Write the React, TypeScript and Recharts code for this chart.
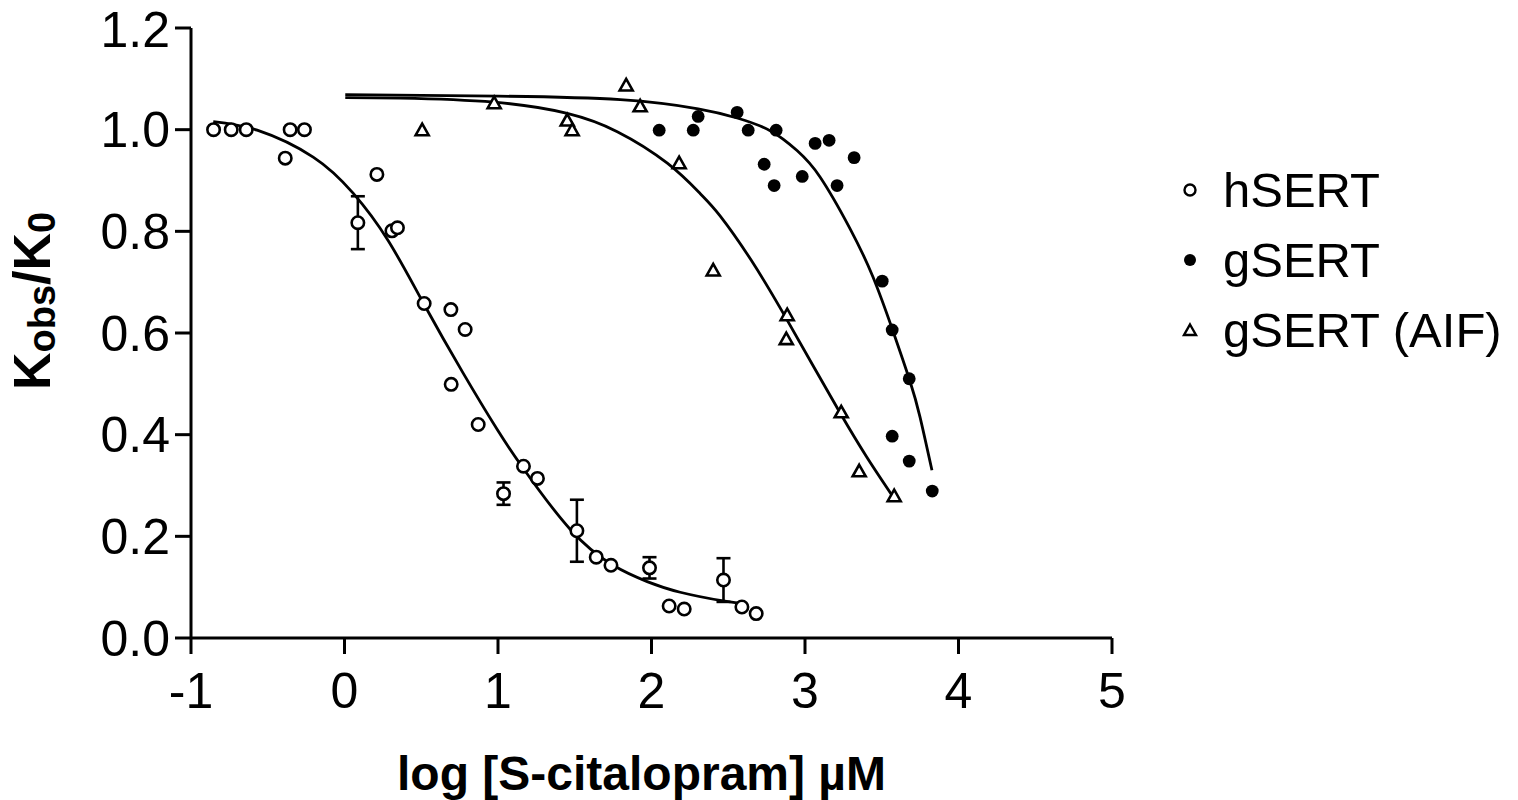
import React from 'react';
import { ScatterChart, Scatter, XAxis, YAxis, ErrorBar, Legend } from 'recharts';

const FONT = '"Liberation Sans", Arial, Helvetica, sans-serif';

// log [S-citalopram] (x) vs Kobs/K0 (y)
const hSert = [
  { x: -0.853, y: 1.0 }, { x: -0.738, y: 1.0 }, { x: -0.64, y: 1.0 }, { x: -0.386, y: 0.944 },
  { x: -0.354, y: 1.0 }, { x: -0.261, y: 1.0 }, { x: 0.211, y: 0.912 }, { x: 0.087, y: 0.817 },
  { x: 0.309, y: 0.801 }, { x: 0.345, y: 0.807 }, { x: 0.519, y: 0.658 }, { x: 0.693, y: 0.646 },
  { x: 0.786, y: 0.607 }, { x: 0.695, y: 0.499 }, { x: 0.871, y: 0.42 }, { x: 1.166, y: 0.338 },
  { x: 1.257, y: 0.314 }, { x: 1.036, y: 0.284 }, { x: 1.514, y: 0.211 }, { x: 1.64, y: 0.159 },
  { x: 1.736, y: 0.143 }, { x: 1.987, y: 0.138 }, { x: 2.115, y: 0.063 }, { x: 2.213, y: 0.057 },
  { x: 2.469, y: 0.114 }, { x: 2.589, y: 0.061 }, { x: 2.682, y: 0.048 },
];

const hSertErr = [
  { x: 0.087, y: 0.817, err: 0.052 },
  { x: 1.036, y: 0.284, err: 0.022 },
  { x: 1.514, y: 0.211, err: 0.061 },
  { x: 1.987, y: 0.138, err: 0.021 },
  { x: 2.469, y: 0.114, err: 0.043 },
];

const gSert = [
  { x: 2.05, y: 0.999 }, { x: 2.272, y: 0.999 }, { x: 2.304, y: 1.026 }, { x: 2.558, y: 1.034 },
  { x: 2.63, y: 0.999 }, { x: 2.812, y: 0.999 }, { x: 2.734, y: 0.932 }, { x: 2.799, y: 0.89 },
  { x: 2.982, y: 0.908 }, { x: 3.066, y: 0.973 }, { x: 3.157, y: 0.979 }, { x: 3.209, y: 0.89 },
  { x: 3.32, y: 0.945 }, { x: 3.503, y: 0.702 }, { x: 3.568, y: 0.606 }, { x: 3.679, y: 0.51 },
  { x: 3.568, y: 0.397 }, { x: 3.679, y: 0.348 }, { x: 3.829, y: 0.289 },
];

const gSertAif = [
  { x: 0.506, y: 0.999 }, { x: 0.975, y: 1.052 }, { x: 1.451, y: 1.018 }, { x: 1.483, y: 0.999 },
  { x: 1.835, y: 1.087 }, { x: 1.926, y: 1.046 }, { x: 2.18, y: 0.934 }, { x: 2.402, y: 0.723 },
  { x: 2.884, y: 0.635 }, { x: 2.878, y: 0.588 }, { x: 3.236, y: 0.444 }, { x: 3.353, y: 0.328 },
  { x: 3.581, y: 0.279 },
];

// fitted curves
const hSertFit = [
  { x: -0.855, y: 1.016 }, { x: -0.569, y: 0.999 }, { x: -0.204, y: 0.946 }, { x: 0.056, y: 0.875 },
  { x: 0.284, y: 0.782 }, { x: 0.519, y: 0.656 }, { x: 0.773, y: 0.521 }, { x: 0.995, y: 0.41 },
  { x: 1.164, y: 0.334 }, { x: 1.47, y: 0.214 }, { x: 1.75, y: 0.143 }, { x: 1.972, y: 0.111 },
  { x: 2.187, y: 0.09 }, { x: 2.467, y: 0.073 }, { x: 2.623, y: 0.067 },
];

const gSertFit = [
  { x: 0.005, y: 1.069 }, { x: 1.001, y: 1.066 }, { x: 1.796, y: 1.059 }, { x: 2.304, y: 1.041 },
  { x: 2.558, y: 1.023 }, { x: 2.773, y: 0.998 }, { x: 2.948, y: 0.959 }, { x: 3.098, y: 0.907 },
  { x: 3.294, y: 0.805 }, { x: 3.443, y: 0.71 }, { x: 3.574, y: 0.603 }, { x: 3.684, y: 0.505 },
  { x: 3.749, y: 0.435 }, { x: 3.827, y: 0.33 },
];

const gSertAifFit = [
  { x: 0.005, y: 1.063 }, { x: 0.363, y: 1.062 }, { x: 0.975, y: 1.054 }, { x: 1.451, y: 1.032 },
  { x: 1.777, y: 0.996 }, { x: 2.103, y: 0.934 }, { x: 2.318, y: 0.874 }, { x: 2.448, y: 0.83 },
  { x: 2.65, y: 0.743 }, { x: 2.858, y: 0.639 }, { x: 3.05, y: 0.537 }, { x: 3.23, y: 0.442 },
  { x: 3.4, y: 0.357 }, { x: 3.575, y: 0.277 },
];

const xTicks = [-1, 0, 1, 2, 3, 4, 5];
const yTicks = [0, 0.2, 0.4, 0.6, 0.8, 1.0, 1.2];

const legendItems = [
  { name: 'hSERT', marker: 'circle' },
  { name: 'gSERT', marker: 'dot' },
  { name: 'gSERT (AIF)', marker: 'triangle' },
];

const STROKE = 2.6;

const OpenCircle = (props: any) => (
  <circle cx={props.cx} cy={props.cy} r={6.2} fill="#fff" stroke="#000" strokeWidth={STROKE} />
);

const Dot = (props: any) => (
  <circle cx={props.cx} cy={props.cy} r={6.4} fill="#000" />
);

const Triangle = (props: any) => {
  const { cx, cy } = props;
  return (
    <path
      d={`M${cx},${cy - 6.5} L${cx + 6.5},${cy + 5} L${cx - 6.5},${cy + 5} Z`}
      fill="#fff"
      stroke="#000"
      strokeWidth={STROKE}
      strokeLinejoin="miter"
    />
  );
};

const Empty = () => <g />;

const LegendMarker = ({ type }: { type: string }) => (
  <svg width={40} height={70} style={{ display: 'block', flex: 'none' }}>
    {type === 'circle' && <circle cx={20} cy={35} r={5.5} fill="none" stroke="#000" strokeWidth={2.4} />}
    {type === 'dot' && <circle cx={20} cy={35} r={6} fill="#000" />}
    {type === 'triangle' && (
      <path d="M20,29.5 L26,40 L14,40 Z" fill="none" stroke="#000" strokeWidth={2.4} />
    )}
  </svg>
);

const LegendBox = () => (
  <div style={{ fontFamily: FONT, fontSize: 49, color: '#000' }}>
    {legendItems.map((it) => (
      <div key={it.name} style={{ display: 'flex', alignItems: 'center', height: 70, lineHeight: '70px' }}>
        <LegendMarker type={it.marker} />
        <span style={{ marginLeft: 13, whiteSpace: 'nowrap' }}>{it.name}</span>
      </div>
    ))}
  </div>
);

const YTitle = () => (
  <text
    transform="translate(50, 390) rotate(-90)"
    textAnchor="start"
    fontFamily={FONT}
    fontWeight="bold"
    fontSize={52}
    fill="#000"
  >
    K<tspan fontSize={38} dy={5}>obs</tspan>
    <tspan dy={-5}>/K</tspan>
    <tspan fontSize={38} dy={5}>0</tspan>
  </text>
);

const XTitle = (props: any) => {
  const vb = props.viewBox || { x: 191, y: 638, width: 921 };
  return (
    <text
      x={vb.x + vb.width / 2 - 10}
      y={790}
      textAnchor="middle"
      fontFamily={FONT}
      fontWeight="bold"
      fontSize={48}
      fill="#000"
    >
      log [S-citalopram] µM
    </text>
  );
};

const tickStyle = { fontSize: 50, fill: '#000', fontFamily: FONT };
const axisStroke = { stroke: '#000', strokeWidth: 3 };
const fitLine = { stroke: '#000', strokeWidth: 2.8 };

export default function App() {
  return (
    <div style={{ position: 'absolute', left: 0, top: 0, width: 1518, height: 800, background: '#fff' }}>
      <ScatterChart width={1518} height={800} margin={{ top: 28, right: 406, bottom: 82, left: 71 }}>
        <XAxis
          type="number"
          dataKey="x"
          domain={[-1, 5]}
          ticks={xTicks}
          allowDataOverflow
          tick={tickStyle}
          tickSize={16}
          tickMargin={18}
          axisLine={axisStroke}
          tickLine={axisStroke}
          height={80}
          label={<XTitle />}
        />
        <YAxis
          type="number"
          dataKey="y"
          domain={[0, 1.2]}
          ticks={yTicks}
          allowDataOverflow
          tickFormatter={(v: number) => v.toFixed(1)}
          tick={tickStyle}
          tickSize={16}
          tickMargin={5}
          axisLine={axisStroke}
          tickLine={axisStroke}
          width={120}
          label={<YTitle />}
        />
        <Legend
          layout="horizontal"
          verticalAlign="middle"
          align="center"
          wrapperStyle={{ left: 1170, top: 155, width: 348 }}
          content={() => <LegendBox />}
        />
        <Scatter name="hSERT fit" data={hSertFit} line={fitLine} lineJointType="natural" shape={Empty} legendType="none" isAnimationActive={false} />
        <Scatter name="gSERT fit" data={gSertFit} line={fitLine} lineJointType="natural" shape={Empty} legendType="none" isAnimationActive={false} />
        <Scatter name="gSERT (AIF) fit" data={gSertAifFit} line={fitLine} lineJointType="natural" shape={Empty} legendType="none" isAnimationActive={false} />
        <Scatter name="hSERT error" data={hSertErr} shape={Empty} legendType="none" isAnimationActive={false}>
          <ErrorBar dataKey="err" direction="y" width={7} stroke="#000" strokeWidth={STROKE} isAnimationActive={false} />
        </Scatter>
        <Scatter name="gSERT (AIF)" data={gSertAif} shape={Triangle} isAnimationActive={false} />
        <Scatter name="gSERT" data={gSert} shape={Dot} isAnimationActive={false} />
        <Scatter name="hSERT" data={hSert} shape={OpenCircle} isAnimationActive={false} />
      </ScatterChart>
    </div>
  );
}
